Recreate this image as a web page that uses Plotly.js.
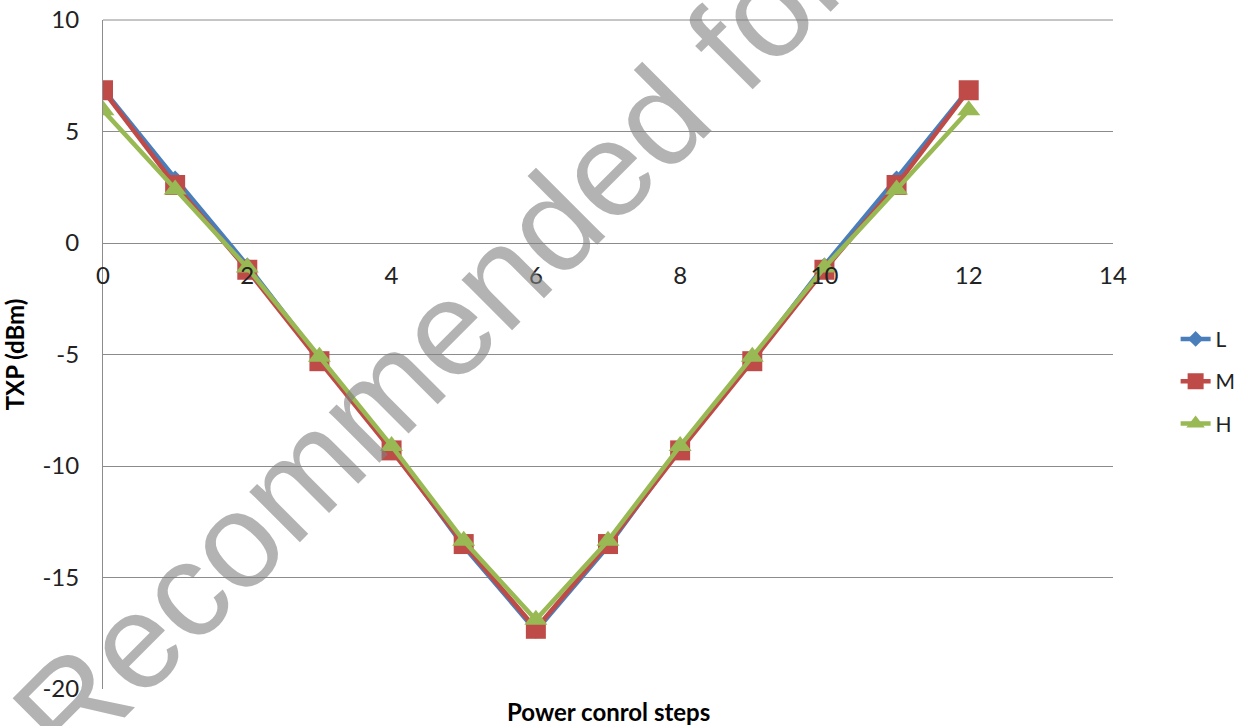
<!DOCTYPE html>
<html>
<head>
<meta charset="utf-8">
<script src="https://cdn.plot.ly/plotly-3.0.1.min.js"></script>
<style>html,body{margin:0;padding:0;background:#fff}#chart{width:1253px;height:726px}</style>
</head>
<body>
<div id="chart"></div>
<script>
const steps = [0,1,2,3,4,5,6,7,8,9,10,11,12];
const L = [6.9, 2.9, -1.0, -5.2, -9.2, -13.6, -17.4, -13.6, -9.2, -5.2, -1.0, 2.9, 6.9];
const M = [6.85, 2.6, -1.2, -5.3, -9.3, -13.5, -17.3, -13.5, -9.3, -5.3, -1.2, 2.6, 6.85];
const H = [5.95, 2.4, -1.1, -5.1, -9.1, -13.35, -16.9, -13.35, -9.1, -5.1, -1.1, 2.4, 5.95];
const seriesNames = ['L','M','H'];
const xTicks = [0,2,4,6,8,10,12,14];
const yTicks = [-20,-15,-10,-5,0,5,10];
const xTitle = 'Power conrol steps';
const yTitle = 'TXP (dBm)';
const watermark = 'Not Recommended for New Design';

const colors = ['#4A7EBB','#BE4B48','#98B954'];
const symbols = ['diamond','square','triangle-up'];
const data = [L, M, H].map((v, i) => ({
  x: steps, y: v, name: seriesNames[i], legendgroup: seriesNames[i], type: 'scatter', mode: 'lines+markers',
  line: {color: colors[i], width: 4.5},
  marker: {symbol: symbols[i], color: colors[i], size: i === 0 ? 12 : 20, line: {width: 0}}
}));

const layout = {
  width: 1253, height: 726,
  margin: {l: 103, r: 140, t: 20, b: 37},
  paper_bgcolor: '#fff', plot_bgcolor: '#fff',
  font: {family: 'Lato, "Open Sans", sans-serif', size: 24, color: '#222'},
  showlegend: true,
  legend: {x: 1.062, y: 0.46, xanchor: 'left', yanchor: 'middle', font: {size: 21, color: '#222'},
           tracegroupgap: 12, bgcolor: 'rgba(0,0,0,0)'},
  xaxis: {range: [0, 14], tickvals: xTicks, ticktext: xTicks.map(String), showgrid: false,
          zeroline: false, showline: false, anchor: 'free', position: 2/3, ticks: '',
          ticklabelstandoff: 16, fixedrange: true},
  yaxis: {range: [-20, 10], tickvals: yTicks, ticktext: yTicks.map(String), showgrid: true,
          gridcolor: '#8c8c8c', gridwidth: 1, zeroline: false, showline: true, linecolor: '#8c8c8c',
          linewidth: 1, ticks: '', ticklabelstandoff: 18,
          title: {text: '<b>' + yTitle + '</b>', font: {size: 24, color: '#000'}, standoff: 12}},
  shapes: [
    {type: 'line', xref: 'paper', yref: 'paper', x0: 0, x1: 1, y0: 1, y1: 1, line: {color: '#8c8c8c', width: 1}, layer: 'below'}
  ],
  annotations: [
    {text: '<b>' + xTitle + '</b>', xref: 'paper', yref: 'paper', x: 0.5, y: -0.033, yanchor: 'middle',
     showarrow: false, font: {size: 24, color: '#000'}},
    {text: watermark, xref: 'paper', yref: 'paper', x: 0.505, y: 0.785, xanchor: 'center', yanchor: 'middle',
     textangle: -45, showarrow: false, font: {family: '"Liberation Sans", Arial, sans-serif', size: 135, color: 'rgba(128,128,128,0.6)'}}
  ]
};
Plotly.newPlot('chart', data, layout, {displayModeBar: false, staticPlot: true});
</script>
</body>
</html>
